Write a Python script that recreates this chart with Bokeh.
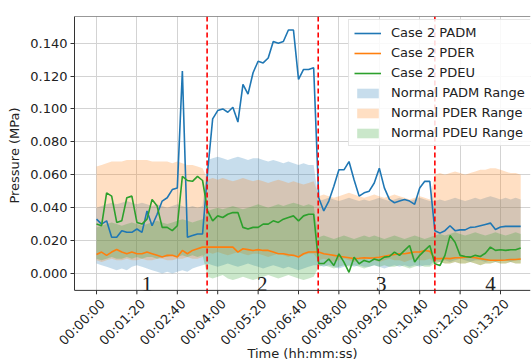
import math
from bokeh.plotting import figure
from bokeh.models import (ColumnDataSource, Range1d, FixedTicker, Span, Legend,
                          LegendItem, PrintfTickFormatter)
from bokeh.embed import file_html
from bokeh.resources import INLINE
from bokeh.core.properties import value

# ---------------- data ----------------
t_sec = list(range(0, 850, 10))  # sample times (s)

padm = [0.033, 0.030, 0.032, 0.022, 0.022, 0.026, 0.025, 0.025, 0.027, 0.025, 0.038,
        0.029, 0.036, 0.044, 0.046, 0.051, 0.052, 0.123, 0.022, 0.023, 0.024, 0.024,
        0.062, 0.094, 0.099, 0.100, 0.098, 0.101, 0.092, 0.115, 0.109, 0.122, 0.129,
        0.128, 0.131, 0.141, 0.140, 0.141, 0.148, 0.148, 0.118, 0.124, 0.124, 0.125,
        0.046, 0.038, 0.044, 0.053, 0.063, 0.063, 0.068, 0.057, 0.047, 0.049, 0.050,
        0.055, 0.064, 0.052, 0.045, 0.043, 0.044, 0.045, 0.044, 0.042, 0.052, 0.056, 0.056,
        0.026, 0.0245, 0.026, 0.029, 0.026, 0.0265, 0.0265, 0.028, 0.0282, 0.029,
        0.0298, 0.0306, 0.0267, 0.0282, 0.0286, 0.0286, 0.0286, 0.0286]

pder = [0.0115, 0.013, 0.011, 0.013, 0.0145, 0.013, 0.012, 0.013, 0.012, 0.012, 0.013,
        0.012, 0.011, 0.010, 0.011, 0.011, 0.010, 0.014, 0.012, 0.014, 0.015, 0.016,
        0.016, 0.016, 0.016, 0.016, 0.016, 0.016, 0.013, 0.015, 0.0145, 0.014, 0.0145,
        0.014, 0.014, 0.013, 0.012, 0.012, 0.0114, 0.011, 0.010, 0.012, 0.013, 0.013,
        0.013, 0.012, 0.0115, 0.011, 0.0105, 0.010, 0.0095, 0.009, 0.0092, 0.0095, 0.0093,
        0.0095, 0.0098, 0.0105, 0.011, 0.0115, 0.012, 0.012, 0.0125, 0.013, 0.013, 0.014, 0.0135,
        0.009, 0.009, 0.0092, 0.009, 0.0095, 0.0096, 0.0098, 0.0099, 0.0095, 0.009,
        0.0085, 0.008, 0.008, 0.008, 0.0082, 0.0085, 0.0085, 0.0088]

pdeu = [0.030, 0.029, 0.049, 0.047, 0.031, 0.032, 0.046, 0.047, 0.031, 0.030, 0.033,
        0.045, 0.041, 0.028, 0.028, 0.026, 0.029, 0.059, 0.0565, 0.056, 0.059, 0.0565,
        0.038, 0.032, 0.035, 0.034, 0.036, 0.037, 0.037, 0.028, 0.027, 0.028, 0.028,
        0.030, 0.030, 0.032, 0.031, 0.033, 0.034, 0.035, 0.032, 0.035, 0.036, 0.036,
        0.006, 0.006, 0.0088, 0.0048, 0.0119, 0.0069, 0.0007, 0.0099, 0.0059, 0.0079, 0.0069,
        0.0088, 0.0079, 0.0099, 0.0103, 0.013, 0.011, 0.014, 0.017, 0.0069, 0.011, 0.014, 0.017,
        0.0059, 0.0048, 0.011, 0.023, 0.019, 0.011, 0.0103, 0.0099, 0.011, 0.0103,
        0.0123, 0.016, 0.014, 0.0144, 0.014, 0.0144, 0.0144, 0.0155]

padm_lo = [0.006, 0.005, 0.004, 0.003, 0.002, 0.003, 0.002, 0.004, 0.005, 0.004, 0.003,
           0.002, 0.001, 0.000, 0.001, 0.000, 0.001, 0.002, 0.001, 0.003, 0.004, 0.005,
           0.006, 0.005, 0.004, 0.005, 0.006, 0.005, 0.004, 0.005, 0.006, 0.005, 0.004,
           0.003, 0.004, 0.005, 0.004, 0.003, 0.004, 0.003, 0.002, 0.003, 0.004, 0.005,
           0.005, 0.004, 0.005, 0.004, 0.003, 0.004, 0.005, 0.004, 0.005, 0.004, 0.004,
           0.005, 0.004, 0.003, 0.004, 0.005, 0.004, 0.005, 0.004, 0.005, 0.004, 0.005, 0.005,
           0.008, 0.007, 0.008, 0.007, 0.008, 0.009, 0.008, 0.007, 0.008, 0.008,
           0.007, 0.008, 0.007, 0.008, 0.008, 0.007, 0.008, 0.008]
padm_hi = [0.040, 0.041, 0.042, 0.043, 0.042, 0.043, 0.044, 0.043, 0.042, 0.043, 0.042,
           0.041, 0.042, 0.041, 0.040, 0.041, 0.042, 0.041, 0.040, 0.041, 0.040, 0.041,
           0.069, 0.070, 0.071, 0.070, 0.069, 0.070, 0.071, 0.070, 0.069, 0.070, 0.070,
           0.069, 0.068, 0.069, 0.068, 0.067, 0.068, 0.067, 0.066, 0.067, 0.066, 0.066,
           0.044, 0.045, 0.046, 0.045, 0.044, 0.045, 0.046, 0.045, 0.044, 0.045, 0.044,
           0.045, 0.046, 0.045, 0.044, 0.045, 0.046, 0.045, 0.044, 0.045, 0.046, 0.045, 0.044,
           0.044, 0.045, 0.044, 0.045, 0.046, 0.045, 0.044, 0.045, 0.046, 0.045,
           0.046, 0.047, 0.046, 0.045, 0.046, 0.045, 0.046, 0.045]

pder_lo = [0.008, 0.007, 0.008, 0.009, 0.008, 0.008, 0.009, 0.008, 0.008, 0.009, 0.008,
           0.008, 0.009, 0.009, 0.008, 0.008, 0.009, 0.009, 0.010, 0.009, 0.009, 0.010,
           0.013, 0.012, 0.013, 0.012, 0.011, 0.012, 0.013, 0.012, 0.011, 0.012, 0.012,
           0.011, 0.010, 0.011, 0.012, 0.011, 0.010, 0.011, 0.010, 0.011, 0.012, 0.012,
           0.008, 0.009, 0.008, 0.007, 0.008, 0.009, 0.008, 0.007, 0.008, 0.008, 0.009,
           0.008, 0.007, 0.008, 0.009, 0.008, 0.008, 0.007, 0.008, 0.009, 0.008, 0.008, 0.009,
           0.006, 0.007, 0.006, 0.006, 0.007, 0.006, 0.006, 0.007, 0.006, 0.005,
           0.006, 0.006, 0.007, 0.006, 0.006, 0.007, 0.006, 0.006]
pder_hi = [0.065, 0.066, 0.067, 0.068, 0.068, 0.068, 0.069, 0.069, 0.069, 0.069, 0.069,
           0.068, 0.068, 0.068, 0.068, 0.067, 0.068, 0.067, 0.066, 0.066, 0.065, 0.064,
           0.057, 0.058, 0.057, 0.058, 0.057, 0.056, 0.057, 0.058, 0.057, 0.056, 0.057,
           0.056, 0.055, 0.056, 0.057, 0.056, 0.055, 0.056, 0.055, 0.054, 0.055, 0.056,
           0.047, 0.048, 0.047, 0.046, 0.047, 0.048, 0.049, 0.048, 0.047, 0.046, 0.047,
           0.048, 0.047, 0.046, 0.047, 0.048, 0.047, 0.046, 0.045, 0.046, 0.047, 0.046, 0.045,
           0.060, 0.061, 0.060, 0.061, 0.062, 0.061, 0.060, 0.061, 0.062, 0.063,
           0.063, 0.064, 0.064, 0.063, 0.062, 0.061, 0.061, 0.060]

pdeu_lo = [0.009, 0.008, 0.009, 0.010, 0.009, 0.009, 0.010, 0.009, 0.010, 0.009, 0.010,
           0.010, 0.009, 0.010, 0.010, 0.011, 0.010, 0.011, 0.010, 0.011, 0.010, 0.011,
           -0.002, -0.003, -0.002, -0.001, -0.003, -0.004, -0.003, -0.002, -0.003, -0.004, -0.003,
           -0.002, -0.001, -0.002, -0.003, -0.002, -0.001, -0.002, -0.003, -0.004, -0.003, -0.002,
           0.004, 0.005, 0.004, 0.003, 0.004, 0.005, 0.004, 0.005, 0.004, 0.003, 0.004,
           0.005, 0.004, 0.005, 0.004, 0.004, 0.005, 0.004, 0.003, 0.004, 0.005, 0.004, 0.004,
           0.006, 0.007, 0.006, 0.006, 0.007, 0.006, 0.006, 0.007, 0.006, 0.005,
           0.006, 0.006, 0.007, 0.006, 0.006, 0.007, 0.006, 0.006]
pdeu_hi = [0.028, 0.029, 0.030, 0.031, 0.030, 0.029, 0.030, 0.031, 0.030, 0.029, 0.030,
           0.031, 0.032, 0.031, 0.030, 0.031, 0.032, 0.033, 0.032, 0.031, 0.032, 0.033,
           0.038, 0.039, 0.040, 0.039, 0.040, 0.041, 0.040, 0.039, 0.040, 0.041, 0.042,
           0.041, 0.040, 0.041, 0.042, 0.041, 0.042, 0.043, 0.042, 0.041, 0.042, 0.041,
           0.022, 0.023, 0.022, 0.021, 0.022, 0.023, 0.022, 0.021, 0.022, 0.023, 0.022,
           0.023, 0.022, 0.021, 0.022, 0.023, 0.022, 0.021, 0.022, 0.023, 0.022, 0.021, 0.022,
           0.023, 0.024, 0.023, 0.024, 0.025, 0.024, 0.023, 0.024, 0.025, 0.024,
           0.023, 0.024, 0.025, 0.024, 0.023, 0.024, 0.025, 0.024]

boundaries = [219, 439, 670]
section_names = ["1", "2", "3", "4"]
section_label_t = [100, 328, 564, 780]

tick_seconds = [0, 80, 160, 240, 320, 400, 480, 560, 640, 720, 800]
tick_labels = ["00:00:00", "00:01:20", "00:02:40", "00:04:00", "00:05:20", "00:06:40",
               "00:08:00", "00:09:20", "00:10:40", "00:12:00", "00:13:20"]
y_ticks = [0.0, 0.02, 0.04, 0.06, 0.08, 0.10, 0.12, 0.14]

# ---------------- figure ----------------
FONT = "DejaVu Sans"
TXT = "#222222"
SPINE = "#333333"
BLUE, ORANGE, GREEN = "#1f77b4", "#ff7f0e", "#2ca02c"
X0, X1 = -43.6, 859.4
AXIS_Y = -0.0103          # where the bottom spine sits
Y0, Y1 = -0.0128, 0.1562  # frame extends a little below the spine (room for tick marks)
LABEL_SHIFT = 12          # seconds; nudges rotated labels to matplotlib's centred placement

src = ColumnDataSource(dict(t=t_sec, padm=padm, pder=pder, pdeu=pdeu,
                            padm_lo=padm_lo, padm_hi=padm_hi,
                            pder_lo=pder_lo, pder_hi=pder_hi,
                            pdeu_lo=pdeu_lo, pdeu_hi=pdeu_hi))

p = figure(width=531, height=364, output_backend="svg", toolbar_location=None,
           x_range=Range1d(X0, X1), y_range=Range1d(Y0, Y1),
           min_border_left=74, min_border_right=1, min_border_top=16,
           min_border_bottom=70)
p.extra_x_ranges = {"lab": Range1d(X0 - LABEL_SHIFT, X1 - LABEL_SHIFT)}
p.outline_line_color = None
p.background_fill_color = "white"

band_alpha = 0.25
r_b1 = p.varea(x="t", y1="padm_lo", y2="padm_hi", source=src, fill_color=BLUE, fill_alpha=band_alpha)
r_b2 = p.varea(x="t", y1="pder_lo", y2="pder_hi", source=src, fill_color=ORANGE, fill_alpha=band_alpha)
r_b3 = p.varea(x="t", y1="pdeu_lo", y2="pdeu_hi", source=src, fill_color=GREEN, fill_alpha=band_alpha)

r_l1 = p.line("t", "padm", source=src, line_color=BLUE, line_width=1.6)
r_l2 = p.line("t", "pder", source=src, line_color=ORANGE, line_width=1.6)
r_l3 = p.line("t", "pdeu", source=src, line_color=GREEN, line_width=1.6)

for b in boundaries:
    p.add_layout(Span(location=b, dimension="height", line_color="red",
                      line_width=1.6, line_dash="5 3"))

lab_src = ColumnDataSource(dict(t=section_label_t, y=[-0.0067] * len(section_names),
                                name=section_names))
p.text(x="t", y="y", text="name", source=lab_src, text_font=value("Liberation Serif"),
       text_font_size="21px", text_align="center", text_baseline="alphabetic",
       text_color=TXT)

# spines: top and bottom, plus bottom tick marks
p.add_layout(Span(location=Y1, dimension="width", line_color=SPINE, line_width=1))
p.add_layout(Span(location=AXIS_Y, dimension="width", line_color=SPINE, line_width=1))
p.segment(x0=tick_seconds, x1=tick_seconds, y0=[AXIS_Y] * len(tick_seconds),
          y1=[Y0] * len(tick_seconds), line_color=SPINE, line_width=1)

# x axis: labels only (rotated), ticks/line drawn above
p.xaxis.x_range_name = "lab"
p.xaxis.ticker = FixedTicker(ticks=tick_seconds)
p.xaxis.major_label_overrides = {s: l for s, l in zip(tick_seconds, tick_labels)}
p.xaxis.major_label_orientation = math.pi / 4
p.xaxis.axis_line_color = None
p.xaxis.major_tick_line_color = None
p.xaxis.major_tick_out = 0
p.xaxis.major_tick_in = 0
p.xaxis.major_label_standoff = 7
p.xaxis.axis_label_standoff = -10
p.xgrid.ticker = FixedTicker(ticks=tick_seconds)

p.yaxis.ticker = FixedTicker(ticks=y_ticks)
p.yaxis.formatter = PrintfTickFormatter(format="%.3f")
p.yaxis.bounds = (AXIS_Y, Y1)
p.yaxis.axis_line_color = SPINE
p.yaxis.major_tick_line_color = SPINE
p.yaxis.major_tick_out = 4
p.yaxis.major_tick_in = 0
p.yaxis.major_label_standoff = 3
p.yaxis.axis_label_standoff = 5

p.xaxis.axis_label = "Time (hh:mm:ss)"
p.yaxis.axis_label = "Pressure (MPa)"
for ax in (p.xaxis, p.yaxis):
    ax.minor_tick_line_color = None
    ax.major_label_text_font = FONT
    ax.major_label_text_font_size = "13px"
    ax.major_label_text_color = TXT
    ax.axis_label_text_font = FONT
    ax.axis_label_text_font_size = "13px"
    ax.axis_label_text_font_style = "normal"
    ax.axis_label_text_color = TXT
p.grid.grid_line_color = "#d3d3d3"
p.grid.grid_line_width = 1

legend = Legend(items=[
    LegendItem(label="Case 2 PADM", renderers=[r_l1]),
    LegendItem(label="Case 2 PDER", renderers=[r_l2]),
    LegendItem(label="Case 2 PDEU", renderers=[r_l3]),
    LegendItem(label="Normal PADM Range", renderers=[r_b1]),
    LegendItem(label="Normal PDER Range", renderers=[r_b2]),
    LegendItem(label="Normal PDEU Range", renderers=[r_b3]),
], location=(274, 148))
legend.label_text_font = FONT
legend.label_text_font_size = "13px"
legend.label_text_color = TXT
legend.label_height = 14
legend.glyph_height = 12
legend.glyph_width = 27
legend.label_standoff = 10
legend.spacing = 5
legend.padding = 5
legend.margin = 0
legend.border_line_color = "#cccccc"
legend.background_fill_alpha = 0.85
p.add_layout(legend)

open("out.html", "w").write(file_html(p, INLINE))
